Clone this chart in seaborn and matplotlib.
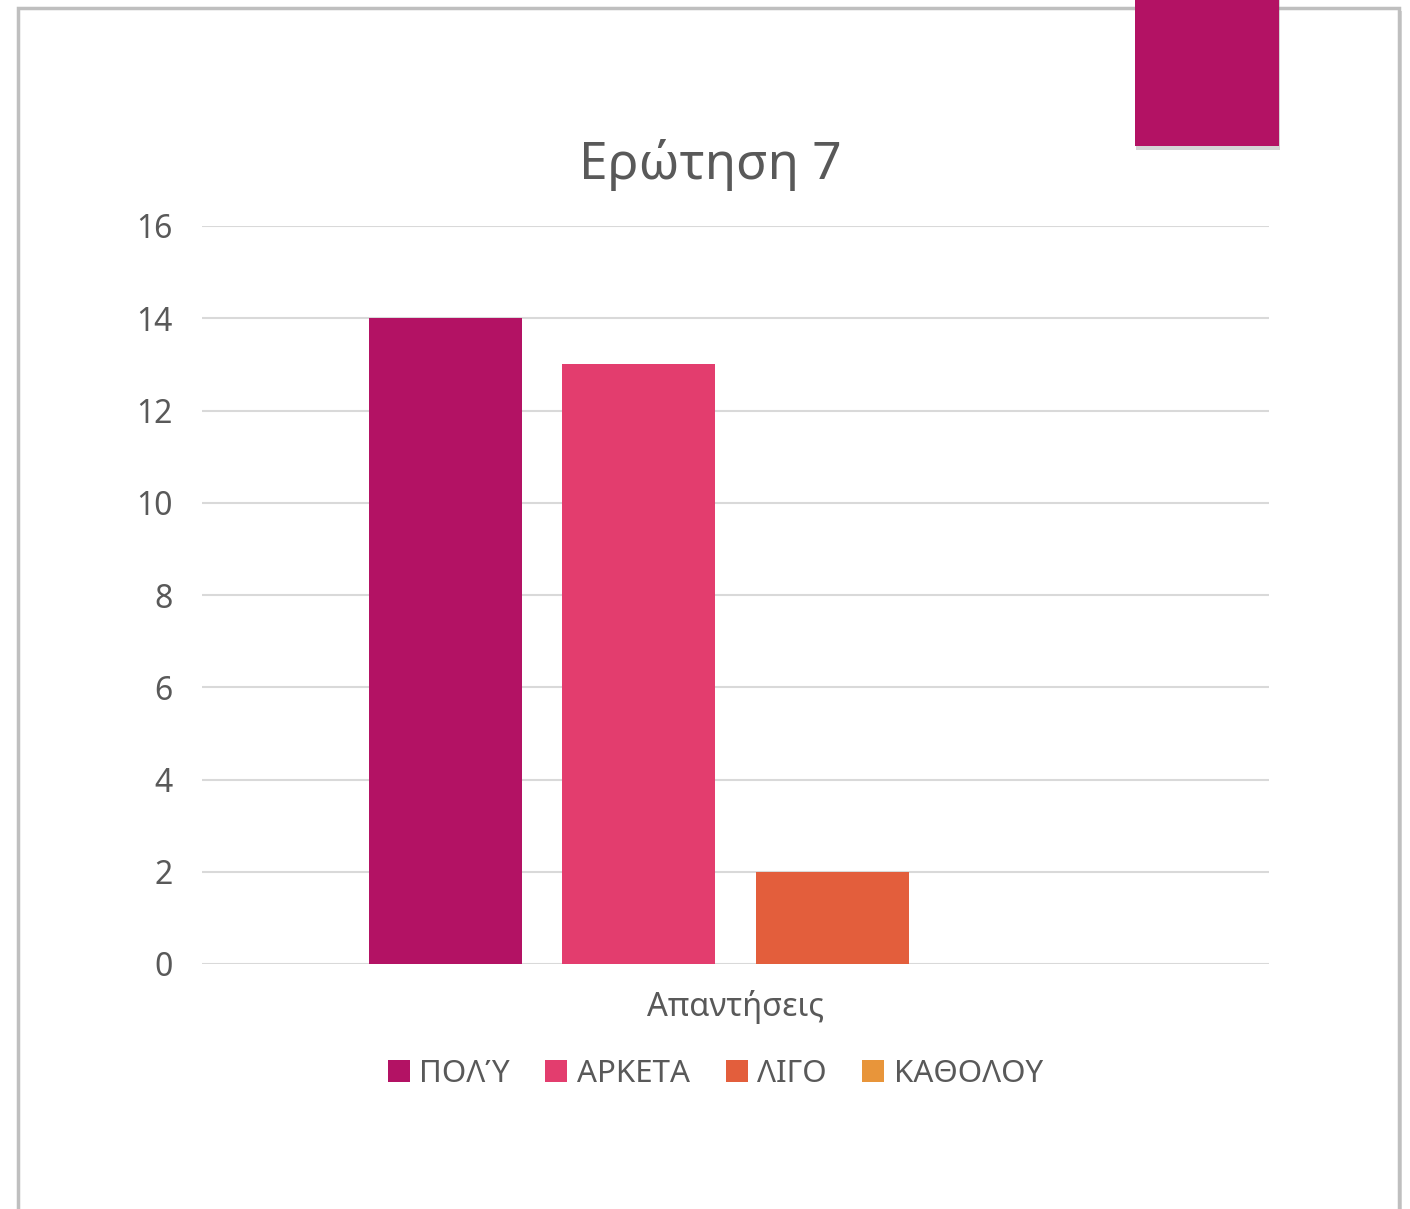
import matplotlib
matplotlib.use('Agg')
import matplotlib.pyplot as plt
import matplotlib.patches as mpatches
import matplotlib.patheffects as pe
import pandas as pd
import seaborn as sns

# Chart data
answers = ['ΠΟΛΎ', 'ΑΡΚΕΤΑ', 'ΛΙΓΟ', 'ΚΑΘΟΛΟΥ']
counts = [14, 13, 2, 0]
group = 'Απαντήσεις'
colors = ['#B31264', '#E33D6E', '#E35E3C', '#E8953A']
yticks = [0, 2, 4, 6, 8, 10, 12, 14, 16]

df = pd.DataFrame({'group': [group] * len(answers), 'answer': answers, 'count': counts})

sns.set_style('white')
plt.rcParams['font.family'] = ['Noto Sans', 'DejaVu Sans']
text_gray = '#595959'
grid_gray = '#D9D9D9'

fig = plt.figure(figsize=(14.1, 12.09), dpi=100)

# Page frame with a soft shadow
frame = mpatches.Rectangle((18 / 1410, -0.1), (1399 - 18) / 1410, 1 - 8 / 1209 + 0.1,
                           transform=fig.transFigure, facecolor='white', edgecolor='#BFBFBF',
                           linewidth=2.5, zorder=-2,
                           path_effects=[pe.SimplePatchShadow(offset=(2, -2), shadow_rgbFace='#999999', alpha=0.4), pe.Normal()])
fig.patches.append(frame)

# Magenta tab at top right
tab = mpatches.Rectangle((1135 / 1410, 1 - 146 / 1209), 144 / 1410, 146 / 1209 + 0.01,
                         transform=fig.transFigure, facecolor='#B31264', edgecolor='none', zorder=-1,
                         path_effects=[pe.SimplePatchShadow(offset=(1, -3), shadow_rgbFace='#888888', alpha=0.35), pe.Normal()])
fig.patches.append(tab)

ax = fig.add_axes([202 / 1410, 1 - 964 / 1209, (1269 - 202) / 1410, (964 - 226) / 1209])
ax.set_facecolor('none')

sns.barplot(data=df, x='group', y='count', hue='answer', hue_order=answers,
            palette=colors, gap=0.21, width=0.8, saturation=1, linewidth=0,
            ax=ax, legend=True, zorder=3)

ax.set_ylim(0, 16)
ax.set_xlim(-0.5515, 0.5515)
ax.set_yticks(yticks)
ax.set_yticklabels([str(t) for t in yticks], fontsize=23, color=text_gray)
ax.tick_params(axis='y', length=0, pad=21)
ax.set_xticks([])
ax.grid(axis='y', color=grid_gray, linewidth=1.5, zorder=0)
ax.set_axisbelow(True)
for s in ax.spines.values():
    s.set_visible(False)

ax.set_ylabel('')
ax.set_xlabel(group, fontsize=23.5, color=text_gray, labelpad=19)
ax.set_title('Ερώτηση 7', fontsize=37, color=text_gray, pad=34, x=0.476)

handles, labels = ax.get_legend_handles_labels()
leg = ax.legend(handles, labels, loc='upper center', bbox_to_anchor=(0.481, -0.09), ncol=4,
                frameon=False, fontsize=22.5, handlelength=0.7, handleheight=0.7,
                handletextpad=0.3, columnspacing=1.15, labelcolor=text_gray)

fig.savefig('out.png', dpi=100, facecolor='white')
plt.close()
